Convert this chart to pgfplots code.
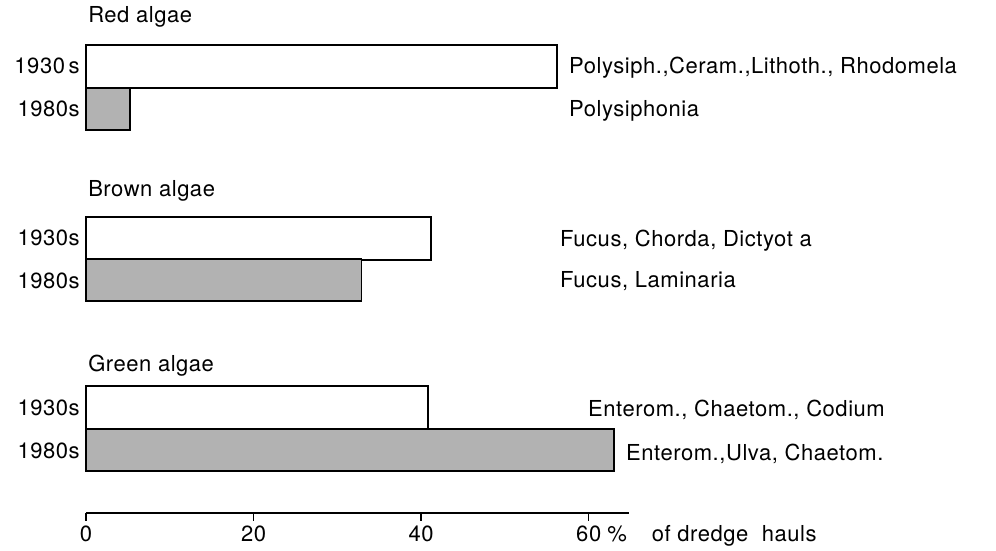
\documentclass[border=0pt]{standalone}
\usepackage{pgfplots}
\pgfplotsset{compat=1.18}
\usepackage{fontspec}
\setmainfont[LetterSpace=2.5]{TeX Gyre Heros}
\newcommand{\lab}{\fontsize{16.5}{19}\selectfont}
\begin{document}
\begin{tikzpicture}
\begin{axis}[
  x=6.285pt, y=0.75pt,
  xmin=0, xmax=64.8, ymin=-513, ymax=-40,
  axis x line*=bottom, axis y line=none,
  xtick={0,20,40,60}, xticklabels={},
  tick align=outside, major tick length=6pt,
  x axis line style={line width=1.6pt},
  tick style={line width=1pt, black},
  ytick=\empty,
  clip=false,
  xbar,
]
\addplot[xbar, bar shift=0pt, bar width=43, fill=white, draw=black, line width=1.2pt]
  coordinates {(56.2,-66.5) (41.2,-238.5) (40.8,-407.5)};
\addplot[xbar, bar shift=0pt, bar width=42, fill=black!30, draw=black, line width=1.2pt]
  coordinates {(5.25,-109) (32.9,-280) (63.0,-450)};

% tick labels
\node[anchor=base, font=\lab] at (axis cs:0,-542) {0};
\node[anchor=base, font=\lab] at (axis cs:20,-542) {20};
\node[anchor=base, font=\lab] at (axis cs:40,-542) {40};
\node[anchor=base, font=\lab] at (axis cs:60,-542) {60};
\node[anchor=base west, font=\lab, inner sep=0pt] at (axis cs:62.2,-542) {\%};
\node[anchor=base west, font=\lab, inner sep=0pt] at (axis cs:67.5,-542) {of dredge\ \ hauls};

% group titles
\node[anchor=base west, font=\lab, inner sep=0pt] at (axis cs:0.24,-23) {Red algae};
\node[anchor=base west, font=\lab, inner sep=0pt] at (axis cs:0.24,-197) {Brown algae};
\node[anchor=base west, font=\lab, inner sep=0pt] at (axis cs:0.24,-372) {Green algae};

% period labels
\node[anchor=base east, font=\lab, inner sep=0pt] at (axis cs:-0.716,-74) {1930\,s};
\node[anchor=base east, font=\lab, inner sep=0pt] at (axis cs:-0.716,-117) {1980s};
\node[anchor=base east, font=\lab, inner sep=0pt] at (axis cs:-0.716,-246) {1930s};
\node[anchor=base east, font=\lab, inner sep=0pt] at (axis cs:-0.716,-289) {1980s};
\node[anchor=base east, font=\lab, inner sep=0pt] at (axis cs:-0.716,-416) {1930s};
\node[anchor=base east, font=\lab, inner sep=0pt] at (axis cs:-0.716,-459) {1980s};

% genus labels
\node[anchor=base west, font=\lab, inner sep=0pt] at (axis cs:57.64,-74) {Polysiph.,Ceram.,Lithoth., Rhodomela};
\node[anchor=base west, font=\lab, inner sep=0pt] at (axis cs:57.64,-117) {Polysiphonia};
\node[anchor=base west, font=\lab, inner sep=0pt] at (axis cs:56.56,-247) {Fucus, Chorda, Dictyot a};
\node[anchor=base west, font=\lab, inner sep=0pt] at (axis cs:56.56,-288) {Fucus, Laminaria};
\node[anchor=base west, font=\lab, inner sep=0pt] at (axis cs:59.9,-417) {Enterom., Chaetom., Codium};
\node[anchor=base west, font=\lab, inner sep=0pt] at (axis cs:64.44,-461) {Enterom.,Ulva, Chaetom.};

\coordinate (bl) at (axis cs:-10.26,-551);
\coordinate (tr) at (axis cs:108.6,0);
\end{axis}
\pgfresetboundingbox
\useasboundingbox (bl) rectangle (tr);
\end{tikzpicture}
\end{document}
